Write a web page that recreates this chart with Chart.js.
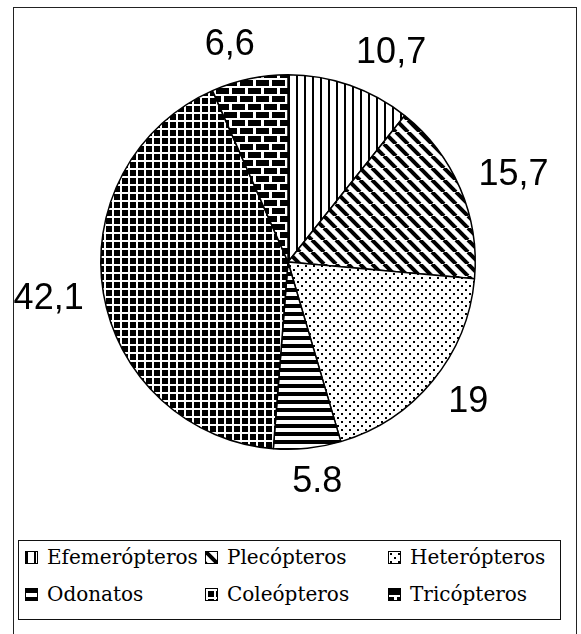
<!DOCTYPE html>
<html>
<head>
<meta charset="utf-8">
<script src="https://cdn.jsdelivr.net/npm/chart.js@4.4.0/dist/chart.umd.min.js"></script>
<style>
    html, body { margin: 0; padding: 0; background: #fff; }
    body { width: 581px; height: 634px; position: relative; overflow: hidden; }
    #frame {
        position: absolute; left: 13px; top: 7px; width: 564px; height: 640px;
        border: 1.5px solid #222; box-sizing: border-box;
    }
    #chart { position: absolute; left: 0; top: 0; }
    #legend {
        position: absolute; left: 18px; top: 540px; width: 543px; height: 80px;
        border: 1.5px solid #111; box-sizing: border-box;
        font-family: "DejaVu Serif", serif; font-size: 20px; color: #000;
    }
    .item { position: absolute; display: flex; align-items: center; height: 28px; white-space: nowrap; }
    .item canvas { border: 1px solid #000; margin-right: 9px; }
</style>
</head>
<body>
<div id="frame"></div>
<canvas id="chart" width="581" height="530"></canvas>
<div id="legend"></div>
<script>
const categories = ['Efemerópteros', 'Plecópteros', 'Heterópteros', 'Odonatos', 'Coleópteros', 'Tricópteros'];
const values = [10.7, 15.7, 19, 5.8, 42.1, 6.6];
const valueLabels = ['10,7', '15,7', '19', '5.8', '42,1', '6,6'];

// black & white fill patterns, one per slice
function makePattern(kind) {
    const c = document.createElement('canvas');
    const g = c.getContext('2d');
    if (kind === 'vertical') {
        c.width = 8; c.height = 8;
        g.fillStyle = '#fff'; g.fillRect(0, 0, 8, 8);
        g.fillStyle = '#000'; g.fillRect(0, 0, 2, 8);
    } else if (kind === 'diagonal') {
        c.width = 12; c.height = 12;
        g.fillStyle = '#fff'; g.fillRect(0, 0, 12, 12);
        g.strokeStyle = '#000'; g.lineWidth = 4;
        for (const o of [-12, 0, 12]) {
            g.beginPath(); g.moveTo(o, 0); g.lineTo(o + 12, 12); g.stroke();
        }
    } else if (kind === 'dots') {
        c.width = 8; c.height = 8;
        g.fillStyle = '#fff'; g.fillRect(0, 0, 8, 8);
        g.fillStyle = '#000';
        g.fillRect(1, 1, 2, 2); g.fillRect(5, 5, 2, 2);
    } else if (kind === 'horizontal') {
        c.width = 8; c.height = 8;
        g.fillStyle = '#fff'; g.fillRect(0, 0, 8, 8);
        g.fillStyle = '#000'; g.fillRect(0, 0, 8, 4);
    } else if (kind === 'grid') {
        c.width = 8; c.height = 8;
        g.fillStyle = '#000'; g.fillRect(0, 0, 8, 8);
        g.fillStyle = '#fff';
        g.fillRect(0, 0, 8, 2); g.fillRect(0, 0, 2, 8);
    } else if (kind === 'brick') {
        c.width = 16; c.height = 16;
        g.fillStyle = '#fff'; g.fillRect(0, 0, 16, 16);
        g.fillStyle = '#000';
        g.fillRect(0, 0, 13, 6);
        g.fillRect(8, 8, 13, 6); g.fillRect(-8, 8, 13, 6);
    }
    return g.createPattern(c, 'repeat');
}

const patternKinds = ['vertical', 'diagonal', 'dots', 'horizontal', 'grid', 'brick'];
const ctx = document.getElementById('chart').getContext('2d');
const fills = patternKinds.map(makePattern);

// value labels outside each slice
const outsideLabels = {
    id: 'outsideLabels',
    afterDatasetsDraw(chart) {
        const c = chart.ctx;
        const arcs = chart.getDatasetMeta(0).data;
        c.save();
        c.font = '36px "Liberation Sans", Arial, sans-serif';
        c.fillStyle = '#000';
        c.textAlign = 'center';
        c.textBaseline = 'middle';
        arcs.forEach((arc, i) => {
            const p = arc.getProps(['x', 'y', 'startAngle', 'endAngle', 'outerRadius'], true);
            const mid = (p.startAngle + p.endAngle) / 2;
            const dx = Math.cos(mid), dy = Math.sin(mid);
            const w = c.measureText(valueLabels[i]).width;
            const h = 28;
            const r = p.outerRadius + 20;
            const kx = Math.max(-1, Math.min(1, dx * 3));
            const tx = p.x + r * dx + kx * w / 2;
            const ty = p.y + r * dy + dy * h / 2;
            c.fillText(valueLabels[i], tx, ty);
        });
        c.restore();
    }
};

//eslint-disable-next-line no-undef
new Chart(ctx, {
    type: 'pie',
    data: {
        labels: categories,
        datasets: [{
            data: values,
            backgroundColor: fills,
            borderColor: '#000',
            borderWidth: 1.5
        }]
    },
    options: {
        responsive: false,
        animation: false,
        layout: { padding: { left: 100, right: 105, top: 74, bottom: 80 } },
        plugins: {
            legend: { display: false },
            tooltip: { enabled: false }
        }
    },
    plugins: [outsideLabels]
});

// legend in three columns, two rows
const legend = document.getElementById('legend');
const colLeft = [6, 186, 369];
const rowTop = [2, 39];
categories.forEach((name, i) => {
    const item = document.createElement('div');
    item.className = 'item';
    item.style.left = colLeft[i % 3] + 'px';
    item.style.top = rowTop[Math.floor(i / 3)] + 'px';
    const sw = document.createElement('canvas');
    sw.width = 11; sw.height = 11;
    const sctx = sw.getContext('2d');
    sctx.fillStyle = fills[i];
    sctx.fillRect(0, 0, 11, 11);
    const span = document.createElement('span');
    span.textContent = name;
    item.append(sw, span);
    legend.append(item);
});
</script>
</body>
</html>
